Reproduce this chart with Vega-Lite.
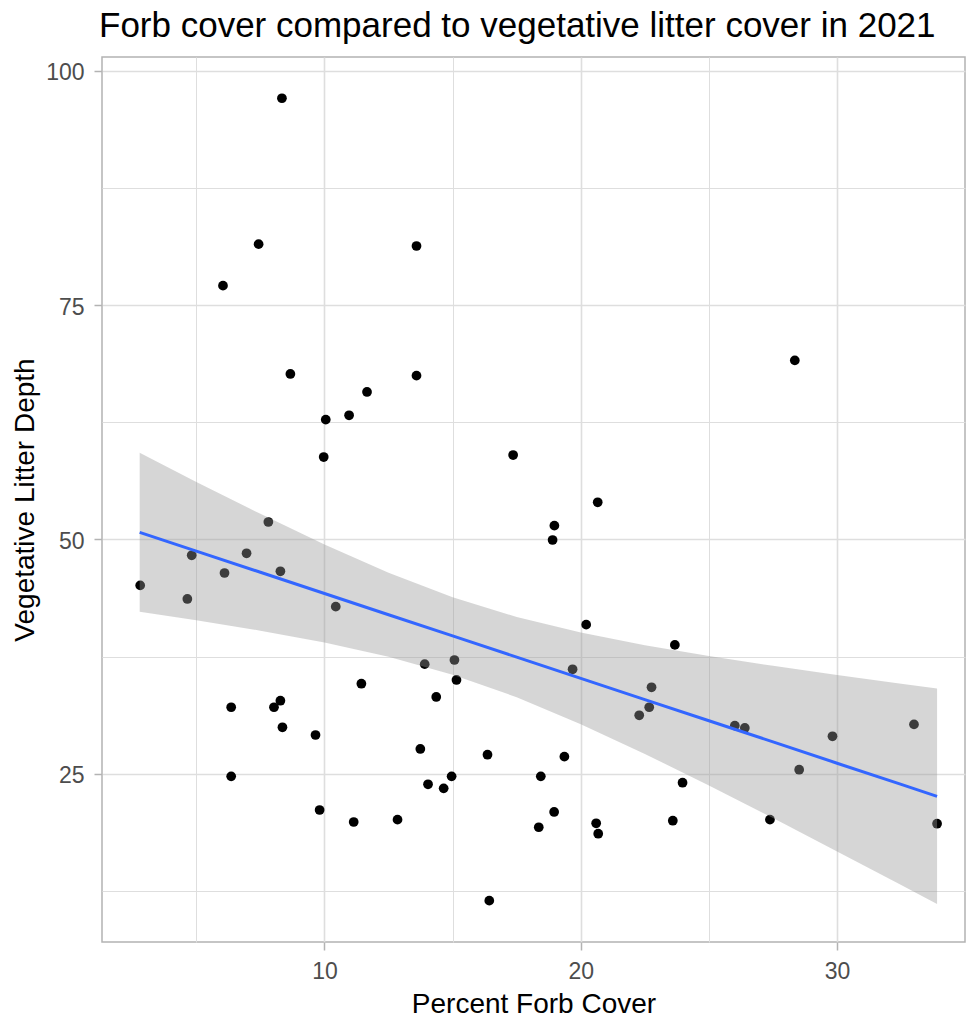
{
  "$schema": "https://vega.github.io/schema/vega-lite/v6.json",
  "autosize": {"type": "none"},
  "padding": {"left": 102, "top": 57, "right": 2, "bottom": 75},
  "width": 863,
  "height": 885,
  "background": "white",
  "title": {
    "text": "Forb cover compared to vegetative litter cover in 2021",
    "anchor": "start",
    "frame": "group",
    "baseline": "alphabetic",
    "offset": -15,
    "dx": -3,
    "font": "Liberation Sans",
    "fontSize": 35,
    "fontWeight": "normal",
    "color": "black"
  },
  "datasets": {
    "points": [
      {"forb": 8.34, "litter": 97.06},
      {"forb": 7.43, "litter": 81.5},
      {"forb": 6.04, "litter": 77.07},
      {"forb": 13.59, "litter": 81.3},
      {"forb": 8.67, "litter": 67.65},
      {"forb": 13.59, "litter": 67.47},
      {"forb": 11.66, "litter": 65.73},
      {"forb": 10.96, "litter": 63.24},
      {"forb": 10.05, "litter": 62.78},
      {"forb": 9.97, "litter": 58.79},
      {"forb": 7.81, "litter": 51.86},
      {"forb": 6.96, "litter": 48.52},
      {"forb": 4.82, "litter": 48.31},
      {"forb": 6.1, "litter": 46.42},
      {"forb": 8.28, "litter": 46.6},
      {"forb": 2.81, "litter": 45.1},
      {"forb": 4.65, "litter": 43.65},
      {"forb": 10.44, "litter": 42.83},
      {"forb": 13.91, "litter": 36.7},
      {"forb": 11.44, "litter": 34.61},
      {"forb": 8.28, "litter": 32.8},
      {"forb": 6.36, "litter": 32.1},
      {"forb": 8.03, "litter": 32.1},
      {"forb": 8.36, "litter": 29.96},
      {"forb": 9.65, "litter": 29.14},
      {"forb": 13.74, "litter": 27.65},
      {"forb": 6.36, "litter": 24.73},
      {"forb": 14.04, "litter": 23.88},
      {"forb": 9.81, "litter": 21.14},
      {"forb": 11.14, "litter": 19.86},
      {"forb": 12.85, "litter": 20.11},
      {"forb": 17.36, "litter": 59.0},
      {"forb": 20.66, "litter": 53.96},
      {"forb": 18.97, "litter": 51.47},
      {"forb": 18.9, "litter": 49.94},
      {"forb": 20.21, "litter": 40.91},
      {"forb": 23.67, "litter": 38.75},
      {"forb": 15.07, "litter": 37.14},
      {"forb": 15.15, "litter": 35.01},
      {"forb": 14.36, "litter": 33.2},
      {"forb": 19.68, "litter": 36.15},
      {"forb": 22.76, "litter": 34.23},
      {"forb": 22.67, "litter": 32.1},
      {"forb": 22.28, "litter": 31.24},
      {"forb": 16.36, "litter": 27.04},
      {"forb": 19.36, "litter": 26.83},
      {"forb": 14.96, "litter": 24.73},
      {"forb": 14.65, "litter": 23.45},
      {"forb": 18.44, "litter": 24.73},
      {"forb": 23.97, "litter": 24.05},
      {"forb": 18.96, "litter": 20.93},
      {"forb": 18.36, "litter": 19.3},
      {"forb": 20.6, "litter": 19.72},
      {"forb": 20.68, "litter": 18.61},
      {"forb": 23.59, "litter": 20.0},
      {"forb": 16.43, "litter": 11.47},
      {"forb": 28.35, "litter": 69.1},
      {"forb": 26.01, "litter": 30.14},
      {"forb": 26.4, "litter": 29.89},
      {"forb": 29.82, "litter": 29.0},
      {"forb": 33.0, "litter": 30.27},
      {"forb": 28.52, "litter": 25.44},
      {"forb": 27.38, "litter": 20.11},
      {"forb": 33.9, "litter": 19.68}
    ],
    "fit": [
      {"forb": 2.79, "litter": 50.76, "lo": 42.28, "hi": 59.24},
      {"forb": 5, "litter": 48.76, "lo": 41.38, "hi": 56.14},
      {"forb": 7.5, "litter": 46.5, "lo": 40.27, "hi": 52.73},
      {"forb": 10, "litter": 44.23, "lo": 39.01, "hi": 49.45},
      {"forb": 12.5, "litter": 41.97, "lo": 37.49, "hi": 46.45},
      {"forb": 15, "litter": 39.71, "lo": 35.58, "hi": 43.84},
      {"forb": 17.5, "litter": 37.45, "lo": 33.17, "hi": 41.73},
      {"forb": 20, "litter": 35.18, "lo": 30.29, "hi": 40.07},
      {"forb": 22.5, "litter": 32.92, "lo": 27.12, "hi": 38.72},
      {"forb": 25, "litter": 30.66, "lo": 23.76, "hi": 37.56},
      {"forb": 27.5, "litter": 28.4, "lo": 20.28, "hi": 36.52},
      {"forb": 30, "litter": 26.13, "lo": 16.72, "hi": 35.54},
      {"forb": 32.5, "litter": 23.87, "lo": 13.13, "hi": 34.61},
      {"forb": 33.9, "litter": 22.6, "lo": 11.11, "hi": 34.09}
    ]
  },
  "encoding": {
    "x": {
      "field": "forb", "type": "quantitative",
      "scale": {"domain": [1.32, 34.99], "nice": false, "zero": false},
      "axis": {
        "title": "Percent Forb Cover",
        "values": [5, 10, 15, 20, 25, 30],
        "labelExpr": "datum.value % 10 === 0 ? datum.label : ''",
        "domain": false,
        "grid": true,
        "gridColor": "#DEDEDE",
        "gridWidth": {"condition": {"test": "datum.value % 10 === 0", "value": 1.6}, "value": 1},
        "ticks": true,
        "tickColor": "#B3B3B3",
        "tickWidth": 1.5,
        "tickSize": 8,
        "tickOpacity": {"condition": {"test": "datum.value % 10 === 0", "value": 1}, "value": 0},
        "labelFont": "Liberation Sans",
        "labelFontSize": 23,
        "labelColor": "#4D4D4D",
        "labelPadding": 10,
        "labelFlush": false,
        "labelOverlap": false,
        "titleFont": "Liberation Sans",
        "titleFontSize": 28,
        "titleFontWeight": "normal",
        "titleColor": "black",
        "titleBaseline": "alphabetic",
        "titleY": 70
      }
    },
    "y": {
      "field": "litter", "type": "quantitative",
      "scale": {"domain": [7.06, 101.46], "nice": false, "zero": false},
      "axis": {
        "title": "Vegetative Litter Depth",
        "values": [12.5, 25, 37.5, 50, 62.5, 75, 87.5, 100],
        "labelExpr": "datum.value % 25 === 0 ? datum.label : ''",
        "domain": false,
        "grid": true,
        "gridColor": "#DEDEDE",
        "gridWidth": {"condition": {"test": "datum.value % 25 === 0", "value": 1.6}, "value": 1},
        "ticks": true,
        "tickColor": "#B3B3B3",
        "tickWidth": 1.5,
        "tickSize": 8,
        "tickOpacity": {"condition": {"test": "datum.value % 25 === 0", "value": 1}, "value": 0},
        "labelFont": "Liberation Sans",
        "labelFontSize": 23,
        "labelColor": "#4D4D4D",
        "labelPadding": 10,
        "labelOffset": 2,
        "labelFlush": false,
        "labelOverlap": false,
        "titleFont": "Liberation Sans",
        "titleFontSize": 28,
        "titleFontWeight": "normal",
        "titleColor": "black",
        "titleBaseline": "alphabetic",
        "titleX": -69,
        "titleY": 442.5
      }
    }
  },
  "layer": [
    {
      "data": {"name": "points"},
      "mark": {"type": "circle", "size": 95, "color": "black", "opacity": 1}
    },
    {
      "data": {"name": "fit"},
      "mark": {"type": "area", "color": "#999999", "opacity": 0.4},
      "encoding": {
        "y": {"field": "lo", "type": "quantitative"},
        "y2": {"field": "hi"}
      }
    },
    {
      "data": {"name": "fit"},
      "mark": {"type": "line", "color": "#3366FF", "strokeWidth": 3}
    }
  ],
  "config": {
    "view": {"stroke": "#B3B3B3", "strokeWidth": 1.5},
    "font": "Liberation Sans"
  }
}
